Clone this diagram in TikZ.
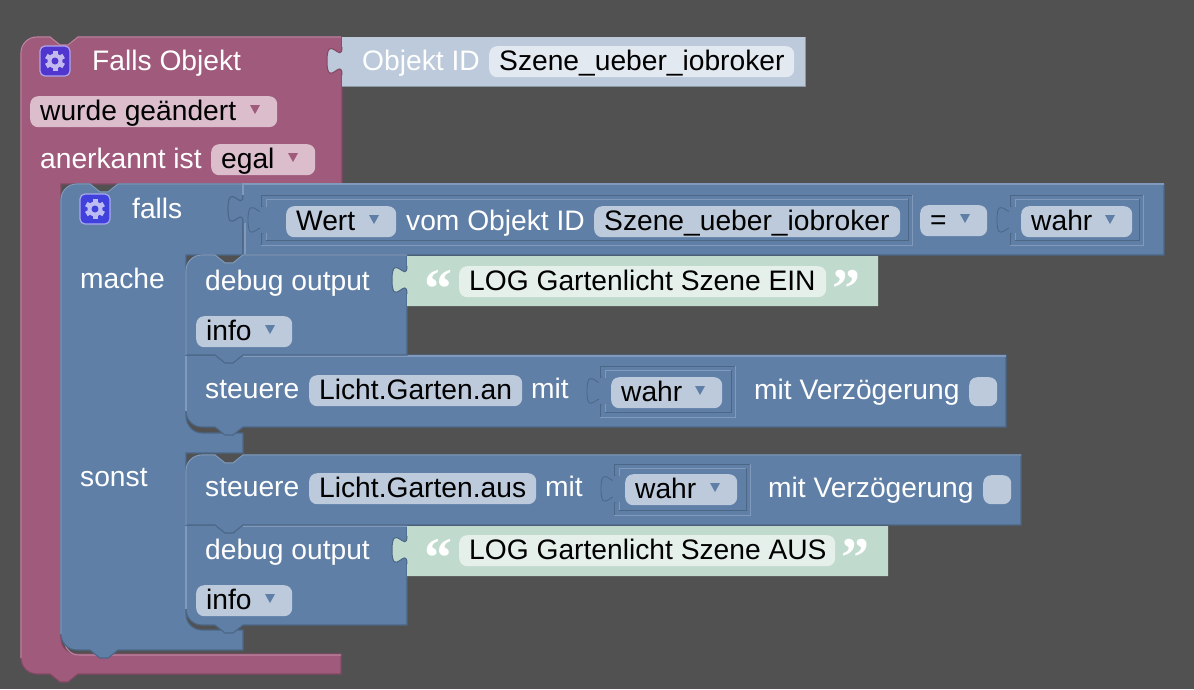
\documentclass[tikz,border=0pt]{standalone}
\usepackage{fontspec}
\setmainfont{Liberation Sans}
\newfontfamily\quotefont{Liberation Serif}
\usetikzlibrary{positioning}

\definecolor{bgcol}{HTML}{515151}
\definecolor{purplecol}{HTML}{A05A7C}
\definecolor{purplelite}{HTML}{BC84A0}
\definecolor{purpledark}{HTML}{804863}
\definecolor{purplefield}{HTML}{DBBDCB}
\definecolor{bluecol}{HTML}{5F7FA7}
\definecolor{bluelite}{HTML}{819ABB}
\definecolor{bluedark}{HTML}{4C6686}
\definecolor{bluefield}{HTML}{BCCADB}
\definecolor{objfield}{HTML}{E3E9F1}
\definecolor{objshadow}{HTML}{8D98A6}
\definecolor{greencol}{HTML}{C0DACE}
\definecolor{greenfield}{HTML}{E5F0EB}
\definecolor{gearpurple}{HTML}{5036CE}
\definecolor{gearblue}{HTML}{4040DC}

\tikzset{
	purpleblock/.style={fill=purplecol, draw=purpledark, line width=1.1pt},
	blueblock/.style={fill=bluecol, draw=bluedark, line width=1.1pt},
	lightblock/.style={fill=bluefield, draw=none},
	greenblock/.style={fill=greencol, draw=none},
	bluelit/.style={draw=bluelite, line width=1.1pt},
	purplelit/.style={draw=purplelite, line width=1.1pt},
	slotdark/.style={draw=bluedark, line width=.8pt},
	slotlit/.style={draw=bluelite, line width=.8pt},
	fieldbox/.style={rectangle, rounded corners=8pt, inner sep=0pt, anchor=north west},
	label/.style={anchor=base west, inner sep=0pt, font=\fontsize{28.2}{30}\selectfont},
}

% notch cut in a top edge, left to right
\newcommand{\notchtop}[2]{-- (#1,#2) -- (#1+10,#2+8) -- (#1+18,#2+8) -- (#1+28,#2)}
% tab under a bottom edge, right to left
\newcommand{\notchbot}[2]{-- (#1+28,#2) -- (#1+18,#2+8) -- (#1+10,#2+8) -- (#1,#2)}
% puzzle tab on a left edge, top to bottom
\newcommand{\puzzle}[2]{-- (#1,#2) .. controls (#1,#2+18) and (#1-15,#2-15) .. (#1-15,#2+14) .. controls (#1-15,#2+43) and (#1,#2+9) .. (#1,#2+28)}
% value block: x1 y1 x2 y2 with tab
\newcommand{\valueblock}[5]{\path[#5] (#1,#2) \puzzle{#1}{#2+10} -- (#1,#4) -- (#3,#4) -- (#3,#2) -- cycle;}
% slot with a nested value: x1 y1 x2 y2
\newcommand{\slotbox}[4]{
	\draw[slotlit] (#1,#4) -- (#3,#4) -- (#3,#2);
	\draw[slotdark] (#1,#4) -- (#1,#2) -- (#3,#2);
	\draw[slotlit] (#1+5,#4-5) -- (#1+5,#2+4) -- (#3-4,#2+4);
	\draw[slotdark] (#1+5,#4-5) -- (#3-4,#4-5) -- (#3-4,#2+4);
	\path[fill=bluecol, draw=bluedark, line width=.8pt] (#1+2,#2+11) .. controls (#1+2,#2+29) and (#1-13,#2-4) .. (#1-13,#2+25) .. controls (#1-13,#2+54) and (#1+2,#2+20) .. (#1+2,#2+39);
	\fill[bluecol] (#1-1,#2+12) rectangle (#1+6,#2+38);
}
% dropdown: name x1 x2 y1 text fillcolour arrowcolour
\newcommand{\dropdown}[7]{
	\node[fieldbox, fill=#6, minimum width=#3pt-#2pt, minimum height=31pt] (#1) at (#2,#4) {};
	\node[label, text=black] (#1txt) at (#2+10,#4+24) {#5};
	\fill[#7] (#3-27,#4+9) -- (#3-17,#4+9) -- (#3-22,#4+18) -- cycle;
}
% plain text field: name x1 x2 y1 text
\newcommand{\textfield}[6]{
	\node[fieldbox, fill=#6, minimum width=#3pt-#2pt, minimum height=31pt] (#1) at (#2,#4) {};
	\node[label, text=black] (#1txt) at (#2+10,#4+24) {#5};
}
% gear icon: name x y colour
\newcommand{\gearbox}[4]{
	\node[rectangle, rounded corners=5pt, fill=#4, draw=#4!45!white, line width=1.2pt, minimum size=30pt, inner sep=0pt] (#1) at (#2,#3) {};
	\foreach \a in {30,90,...,330} {
		\draw[#4!35!white, line width=5pt] (#1.center) ++(\a:6) -- ++(\a:4);
	}
	\fill[#4!35!white] (#1.center) circle[radius=7.5];
	\fill[#4] (#1.center) circle[radius=3.5];
}

\begin{document}
\begin{tikzpicture}[x=1pt, y=-1pt]
	\useasboundingbox (0,0) rectangle (1194,689);
	\fill[bgcol] (0,0) rectangle (1194,689);

	% outer trigger block
	\path[purpleblock] (21,53) .. controls (21,44) and (28,37) .. (37,37) \notchtop{50}{37} -- (342,37) -- (342,184) -- (61,184) -- (61,638) .. controls (61,647) and (68,654) .. (77,654) -- (341,654) -- (341,674) \notchbot{50}{674} -- (37,674) .. controls (28,674) and (21,667) .. (21,658) -- cycle;
	\draw[purplelit] (21,658) -- (21,53) .. controls (21,44) and (28,37) .. (37,37) -- (50,37) -- (60,45) -- (68,45) -- (78,37) -- (341,37);
	\draw[purplelit] (64,640) .. controls (65,648) and (70,655) .. (79,655) -- (341,655);

	% object id value
	\valueblock{342}{37}{805}{86}{lightblock}
	\draw[purpledark, line width=1pt] (342,47) .. controls (342,65) and (327,32) .. (327,61) .. controls (327,90) and (342,56) .. (342,75);
	\draw[objshadow, line width=1pt] (342,86) -- (805,86) -- (805,37);

	% condition block with its branches
	\path[blueblock] (61,200) .. controls (61,191) and (68,184) .. (77,184) \notchtop{90}{184} -- (243,184) -- (243,255) -- (186,255) -- (186,416) .. controls (186,425) and (193,433) .. (202,433) -- (243,433) -- (243,453) -- (186,453) -- (186,614) .. controls (186,623) and (193,630) .. (202,630) -- (243,630) -- (243,650) \notchbot{90}{650} -- (77,650) .. controls (68,650) and (61,643) .. (61,634) -- cycle;
	\draw[bluelit] (61,634) -- (61,200) .. controls (61,191) and (68,184) .. (77,184) -- (90,184) -- (100,192) -- (108,192) -- (118,184) -- (243,184);

	% comparison value
	\path[blueblock] (243,184) \puzzle{243}{195} -- (243,255) -- (1164,255) -- (1164,184) -- cycle;
	\draw[bluelit] (243,195) -- (243,184) -- (1164,184);
	\draw[bluelit] (245,223) -- (245,254);
	\slotbox{261}{195}{912}{245}
	\slotbox{1010}{195}{1143}{245}

	% switch block, first branch
	\path[blueblock] (186,355) -- (1006,355) -- (1006,427) \notchbot{215}{427} -- (202,427) .. controls (193,427) and (186,420) .. (186,411) -- cycle;
	\draw[bluelit] (186,411) -- (186,356);
	\draw[bluelit] (243,356) -- (1006,356);
	\slotbox{600}{366}{735}{417}

	% debug block, first branch
	\path[blueblock] (186,271) .. controls (186,262) and (193,255) .. (202,255) \notchtop{215}{255} -- (407,255) -- (407,355) \notchbot{215}{355} -- (186,355) -- cycle;
	\draw[bluelit] (186,355) -- (186,271) .. controls (186,262) and (193,255) .. (202,255) -- (215,255) -- (225,263) -- (233,263) -- (243,255) -- (407,255);
	\valueblock{407}{256}{878}{306}{greenblock}
	\draw[bluedark, line width=1pt] (407,266) .. controls (407,284) and (392,251) .. (392,280) .. controls (392,309) and (407,275) .. (407,294);

	% debug block, second branch
	\path[blueblock] (186,525) -- (407,525) -- (407,625) \notchbot{215}{625} -- (202,625) .. controls (193,625) and (186,618) .. (186,609) -- cycle;
	\draw[bluelit] (186,609) -- (186,526);
	\draw[bluelit] (243,526) -- (407,526);
	\valueblock{407}{526}{888}{576}{greenblock}
	\draw[bluedark, line width=1pt] (407,536) .. controls (407,554) and (392,521) .. (392,550) .. controls (392,579) and (407,545) .. (407,564);

	% switch block, second branch
	\path[blueblock] (186,471) .. controls (186,462) and (193,455) .. (202,455) \notchtop{215}{455} -- (1021,455) -- (1021,525) \notchbot{215}{525} -- (186,525) -- cycle;
	\draw[bluelit] (186,525) -- (186,471) .. controls (186,462) and (193,455) .. (202,455) -- (215,455) -- (225,463) -- (233,463) -- (243,455) -- (1021,455);
	\slotbox{614}{464}{750}{515}

	\gearbox{gearobj}{55}{61}{gearpurple}
	\gearbox{gearfalls}{95}{209}{gearblue}

	% white labels
	\begin{scope}[every node/.style={label, text=white}]
		\foreach \n/\x/\y/\t in {fallsobj/92/70/Falls Objekt, objid/362/70/Objekt ID, anerkannt/40/168/anerkannt ist, falls/132/218/falls, mache/80/288/mache, sonst/80/486/sonst, vom/406/230/vom Objekt ID, dbgone/205/290/debug output, steuone/205/398/steuere, mitone/531/398/mit, verzone/754/399/mit Verzögerung, steutwo/205/496/steuere, mittwo/545/496/mit, verztwo/768/497/mit Verzögerung, dbgtwo/205/559/debug output}
			\node (\n) at (\x,\y) {\t};
	\end{scope}

	% dropdowns
	\dropdown{wurde}{30}{277}{96}{wurde geändert}{purplefield}{purplecol}
	\dropdown{egal}{211}{315}{144}{egal}{purplefield}{purplecol}
	\dropdown{wert}{286}{396}{206}{Wert}{bluefield}{bluecol}
	\dropdown{equal}{920}{987}{205}{=}{bluefield}{bluecol}
	\dropdown{wahrcmp}{1021}{1132}{206}{wahr}{bluefield}{bluecol}
	\dropdown{infoone}{196}{292}{316}{info}{bluefield}{bluecol}
	\dropdown{wahrone}{611}{722}{377}{wahr}{bluefield}{bluecol}
	\dropdown{wahrtwo}{625}{737}{474}{wahr}{bluefield}{bluecol}
	\dropdown{infotwo}{196}{292}{585}{info}{bluefield}{bluecol}

	% text fields
	\textfield{szeneone}{489}{794}{46}{Szene\_ueber\_iobroker}{objfield}
	\textfield{szenetwo}{594}{900}{206}{Szene\_ueber\_iobroker}{bluefield}
	\textfield{lichtan}{309}{522}{375}{Licht.Garten.an}{bluefield}
	\textfield{lichtaus}{309}{536}{473}{Licht.Garten.aus}{bluefield}
	\textfield{logein}{459}{826}{266}{LOG Gartenlicht Szene EIN}{greenfield}
	\textfield{logaus}{459}{835}{535}{LOG Gartenlicht Szene AUS}{greenfield}

	% delay checkboxes
	\node[fieldbox, fill=bluefield, minimum width=28pt, minimum height=29pt] (boxone) at (969,377) {};
	\node[fieldbox, fill=bluefield, minimum width=28pt, minimum height=29pt] (boxtwo) at (983,475) {};

	% quote marks
	\begin{scope}[every node/.style={anchor=base, inner sep=0pt, text=white, font=\quotefont\fontsize{56}{56}\bfseries\selectfont}]
		\node (qa) at (438,307) {“};
		\node (qb) at (846,307) {”};
		\node (qc) at (438,576) {“};
		\node (qd) at (855,576) {”};
	\end{scope}
\end{tikzpicture}
\end{document}
